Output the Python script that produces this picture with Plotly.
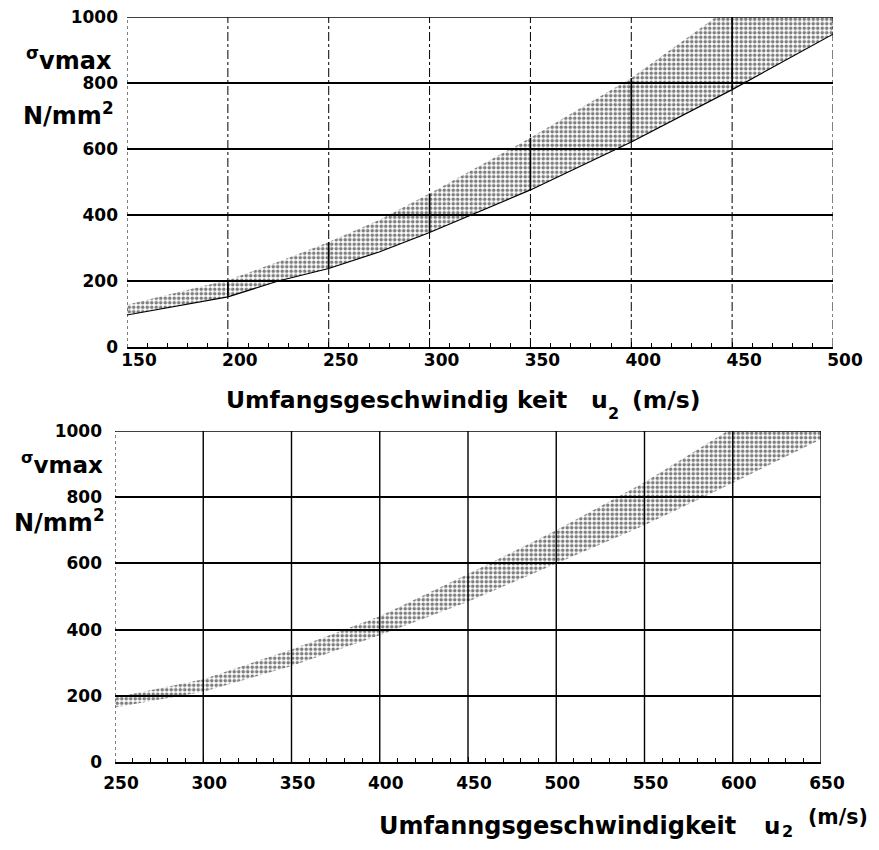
import plotly.graph_objects as go

# page has an 8px body margin: the figure is drawn 8px right/down
OFF = 8
W, H = 879 - 2 * OFF, 850 - 2 * OFF

# ---------------- data ----------------
# upper chart: u2 150..500 m/s
top_xticks = [150, 200, 250, 300, 350, 400, 450, 500]
top_upper_x = [150, 200, 225, 250, 275, 300, 350, 400, 442, 450, 500]
top_upper_y = [128, 203, 258, 318, 385, 465, 634, 815, 1000, 1000, 1000]
top_lower_x = [150, 200, 225, 250, 275, 300, 350, 400, 450, 500]
top_lower_y = [97, 152, 200, 238, 288, 347, 476, 621, 780, 948]

# lower chart: u2 250..650 m/s
bot_xticks = [250, 300, 350, 400, 450, 500, 550, 600, 650]
bot_upper_x = [250, 300, 350, 400, 450, 500, 550, 597, 650]
bot_upper_y = [195, 250, 340, 440, 568, 700, 845, 1000, 1000]
bot_lower_x = [250, 300, 350, 400, 450, 500, 550, 600, 650]
bot_lower_y = [165, 212, 290, 383, 484, 600, 715, 843, 975]

yticks = [0, 200, 400, 600, 800, 1000]

FONT = "DejaVu Sans, Liberation Sans, Arial, sans-serif"


def px(X):
    return (X - OFF) / W


def py(Y):
    return 1 - (Y - OFF) / H


fig = go.Figure()

PATTERN = dict(shape=".", fgcolor="#000000", bgcolor="rgba(255,255,255,0)",
               size=4.5, solidity=0.5, fillmode="overlay")


def band(xu, yu, xl, yl, xa, ya):
    bx = list(xl) + list(reversed(xu))
    by = list(yl) + list(reversed(yu))
    return go.Scatter(x=bx, y=by, xaxis=xa, yaxis=ya, mode="lines",
                      fill="toself", fillcolor="rgba(255,255,255,0)",
                      fillpattern=PATTERN,
                      line=dict(width=0, color="rgba(0,0,0,0)"),
                      hoverinfo="skip", showlegend=False)


fig.add_trace(band(top_upper_x, top_upper_y, top_lower_x, top_lower_y, "x", "y"))
fig.add_trace(band(bot_upper_x, bot_upper_y, bot_lower_x, bot_lower_y, "x2", "y2"))

# lower boundary line of the upper chart
fig.add_trace(go.Scatter(x=top_lower_x, y=top_lower_y, xaxis="x", yaxis="y",
                         mode="lines", line=dict(color="black", width=1.2),
                         hoverinfo="skip", showlegend=False))

# solid segments where the vertical grid lines cross the band (upper chart)
up_map = dict(zip(top_upper_x, top_upper_y))
lo_map = dict(zip(top_lower_x, top_lower_y))
sx, sy = [], []
for v in top_xticks[1:-1]:
    if v in up_map and v in lo_map:
        sx += [v, v, None]
        sy += [lo_map[v], up_map[v], None]
fig.add_trace(go.Scatter(x=sx, y=sy, xaxis="x", yaxis="y", mode="lines",
                         line=dict(color="black", width=1.6),
                         hoverinfo="skip", showlegend=False))

# ---------------- axes ----------------
tickfont = dict(family=FONT, size=17, color="black", weight="bold")


def xaxis(dom, anchor, rng, ticks, standoff, shift):
    return dict(domain=dom, anchor=anchor, range=rng, tickvals=ticks,
                showgrid=False, zeroline=False, showline=True,
                linecolor="black", linewidth=1.5, ticks="inside",
                ticklen=5, tickcolor="black", tickwidth=1.2,
                minor=dict(ticks="inside", dtick=10, ticklen=4,
                           tickcolor="black", tickwidth=1, showgrid=False),
                tickfont=tickfont, ticklabelstandoff=standoff,
                ticklabelshift=shift, ticklabeloverflow="allow",
                automargin=False, fixedrange=True)


def yaxis(dom, anchor, standoff):
    return dict(domain=dom, anchor=anchor, range=[0, 1000], tickvals=yticks,
                showgrid=True, gridcolor="black", gridwidth=1.5,
                zeroline=False, showline=False, ticks="",
                tickfont=tickfont, ticklabelstandoff=standoff,
                ticklabeloverflow="allow",
                automargin=False, fixedrange=True)


fig.update_layout(
    width=W, height=H,
    margin=dict(l=0, r=0, t=0, b=0),
    paper_bgcolor="white", plot_bgcolor="white",
    showlegend=False,
    xaxis=xaxis([px(127), px(833)], "y", [150, 500], top_xticks, -3, 12),
    yaxis=yaxis([py(347), py(17)], "x", 8),
    xaxis2=xaxis([px(115), px(821)], "y2", [250, 650], bot_xticks, 5, 6),
    yaxis2=yaxis([py(762), py(431)], "x2", 12),
)

# vertical grid lines + top frame line
shapes = []
for i, v in enumerate(top_xticks):
    shapes.append(dict(type="line", xref="x", yref="y domain", x0=v, x1=v,
                       y0=0, y1=1, layer="below",
                       line=dict(color="black", width=1,
                                 dash="dot" if i == 0 else "dashdot")))
for i, v in enumerate(bot_xticks):
    shapes.append(dict(type="line", xref="x2", yref="y2 domain", x0=v, x1=v,
                       y0=0, y1=1, layer="below",
                       line=dict(color="black", width=1.4 if i else 1,
                                 dash="dot" if i == 0 else "solid")))
for xr, yr in (("x domain", "y"), ("x2 domain", "y2")):
    shapes.append(dict(type="line", xref=xr, yref=yr, x0=0, x1=1,
                       y0=yticks[-1], y1=yticks[-1], layer="below",
                       line=dict(color="black", width=1.5)))
fig.update_layout(shapes=shapes)

# ---------------- labels ----------------


def ann(text, X, Y, size, xanchor="left"):
    return dict(text=text, x=px(X), y=py(Y), xref="paper", yref="paper",
                xanchor=xanchor, yanchor="middle", showarrow=False,
                font=dict(family=FONT, size=size, color="black", weight="bold"))


annotations = [
    ann("<sup>σ</sup>vmax", 24, 59, 24),
    ann("N/mm<sup>2</sup>", 21, 114, 24),
    ann("<sup>σ</sup>vmax", 19, 463, 23),
    ann("N/mm<sup>2</sup>", 12, 521, 24),
    # upper x title
    ann("Umfangsgeschwindig\u00a0keit", 224, 400, 23.5),
    ann("u", 589, 400, 23.5),
    ann("2", 606, 413, 16),
    ann("(m/s)", 630, 400, 23.5),
    # lower x title
    ann("Umfanngsgeschwindigkeit", 377, 826, 24),
    ann("u", 762, 826, 23),
    ann("2", 780, 831, 16),
    ann("(m/s)", 806, 817, 20.5),
]
fig.update_layout(annotations=annotations)

fig.write_html("out.html")
